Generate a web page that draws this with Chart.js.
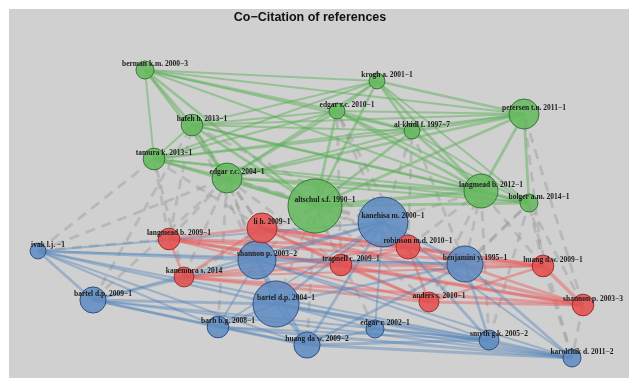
<!DOCTYPE html>
<html>
<head>
<meta charset="utf-8">
<script src="https://cdn.jsdelivr.net/npm/chart.js@4.4.0/dist/chart.umd.min.js"></script>
<style>
  body { margin: 0; background: #fff; }
  #wrap { position: absolute; left: 9px; top: 9px; width: 620px; height: 369px; background: #d0d0d0; }
</style>
</head>
<body>
<div id="wrap"><canvas id="myChart"></canvas></div>
<script>
const title = 'Co\u2212Citation of references';

// references: 0-10 green cluster, 11-18 red, 19-29 blue
const names = [
    'berman k.m. 2000\u22123', 'krogh a. 2001\u22121', 'edgar r.c. 2010\u22121', 'hafeh h. 2013\u22121',
    'petersen t.n. 2011\u22121', 'al-khidl f. 1997\u22127', 'tamura k. 2013\u22121', 'edgar r.c. 2004\u22121',
    'altschul s.f. 1990\u22121', 'langmead b. 2012\u22121', 'bolger a.m. 2014\u22121',
    'li h. 2009\u22121', 'langmead b. 2009\u22121', 'robinson m.d. 2010\u22121', 'trapnell c. 2009\u22121',
    'huang d.w. 2009\u22121', 'kanemura s. 2014', 'anders s. 2010\u22121', 'shannon p. 2003\u22123',
    'kanehisa m. 2000\u22121', 'shannon p. 2003\u22122', 'benjamini y. 1995\u22121', 'ivak l.j. \u22121',
    'bartel d.p. 2009\u22121', 'bartel d.p. 2004\u22121', 'barb b.g. 2008\u22121', 'huang da w. 2009\u22122',
    'edgar r. 2002\u22121', 'smyth g.k. 2005\u22122', 'karolchik d. 2011\u22122'
];
const cluster = [
    'g','g','g','g','g','g','g','g','g','g','g',
    'r','r','r','r','r','r','r','r',
    'b','b','b','b','b','b','b','b','b','b','b'
];
// layout coordinates
const posX = [145, 377, 337, 192, 524, 412, 154, 227, 315, 481, 529,
              262, 169, 408, 341, 543, 184, 429, 583,
              383, 257, 465, 38, 93, 276, 218, 307, 375, 489, 572];
const posY = [70, 81, 111, 125, 114, 131, 159, 178, 206, 191, 203,
              228, 239, 247, 265, 266, 277, 302, 305,
              222, 260, 264, 251, 300, 304, 327, 345, 329, 340, 358];
// co-citation weight per reference
const cites = [9, 7, 7, 13, 25, 7, 13, 25, 81, 32, 9,
               25, 13, 16, 13, 13, 11, 11, 13,
               69, 40, 36, 7, 19, 59, 13, 19, 9, 11, 9];

// [from, to, strength]
const greenLinks = [
    [0,1,1],[0,2,2],[0,3,2],[0,4,1],[0,5,1],[0,7,2],[0,8,2],[0,9,1],[0,6,1],
    [1,2,2],[1,3,1],[1,4,2],[1,5,2],[1,7,1],[1,8,2],[1,9,2],[1,10,1],[1,6,1],
    [2,3,1],[2,4,1],[2,5,2],[2,6,1],[2,7,2],[2,8,2],[2,9,2],[2,10,1],
    [3,4,1],[3,5,1],[3,6,1],[3,7,2],[3,8,2],[3,9,2],[3,10,1],
    [4,5,2],[4,6,1],[4,7,2],[4,8,2],[4,9,2],[4,10,2],
    [5,6,1],[5,7,1],[5,8,2],[5,9,2],[5,10,1],
    [6,7,2],[6,8,2],[6,9,1],[6,10,1],
    [7,8,3],[7,9,2],[7,10,1],
    [8,9,3],[8,10,2],
    [9,10,3]
];
const redLinks = [
    [11,12,2],[11,13,3],[11,14,2],[11,15,3],[11,16,2],[11,17,2],[11,18,3],
    [12,13,2],[12,14,2],[12,15,2],[12,16,2],[12,17,1],[12,18,2],
    [13,14,2],[13,15,3],[13,16,1],[13,17,2],[13,18,2],
    [14,15,2],[14,16,2],[14,17,2],[14,18,2],
    [15,16,1],[15,17,2],[15,18,3],
    [16,17,2],[16,18,2],
    [17,18,2]
];
const blueLinks = [
    [19,20,2],[19,21,2],[19,22,1],[19,23,1],[19,24,2],[19,25,1],[19,26,2],[19,27,1],[19,28,2],[19,29,1],
    [20,21,2],[20,22,2],[20,23,2],[20,24,2],[20,25,1],[20,26,2],[20,28,1],[20,29,1],
    [21,22,1],[21,24,2],[21,26,2],[21,28,2],[21,29,2],
    [22,23,2],[22,24,2],[22,25,1],[22,26,1],[22,28,1],
    [23,24,2],[23,25,2],[23,26,2],[23,28,1],[23,29,1],
    [24,25,2],[24,26,2],[24,27,1],[24,28,2],[24,29,2],
    [25,26,2],[25,28,1],[25,29,2],
    [26,27,1],[26,28,2],[26,29,2],
    [27,28,1],[27,29,1],
    [28,29,2]
];
// links between clusters (dashed)
const crossLinks = [
    [22,6],[22,7],[22,12],[23,7],[12,6],[12,7],[12,3],[16,7],[16,6],[16,8],
    [11,7],[11,3],[11,6],[14,8],[14,2],[14,7],[13,8],[13,9],[13,2],[13,5],
    [19,8],[19,9],[19,7],[19,2],[19,5],[19,3],[20,8],[20,7],[20,3],[21,9],
    [21,10],[21,5],[21,8],[15,10],[15,9],[15,4],[18,10],[18,4],[18,29],[17,9],
    [17,8],[17,10],[24,8],[24,7],[26,8],[27,8],[28,9],[28,10],[25,7],[29,15],
    [29,10],[23,3]
];

const fills = { g: 'rgba(104,186,96,0.88)', r: 'rgba(228,80,80,0.88)', b: 'rgba(96,140,194,0.88)' };
const borders = { g: 'rgba(45,110,45,0.9)', r: 'rgba(150,40,40,0.9)', b: 'rgba(40,70,120,0.9)' };

function edge(link, color, dash, order) {
    let a = link[0], b = link[1];
    let w = link.length > 2 ? 1.1 + link[2] * 0.85 : 2.8;
    return {
        type: 'line',
        data: [{ x: posX[a], y: posY[a] }, { x: posX[b], y: posY[b] }],
        borderColor: color,
        borderWidth: w,
        borderDash: dash,
        pointRadius: 0,
        fill: false,
        clip: false,
        order: order
    };
}

function nodes(c) {
    let pts = [];
    for (let i = 0; i < names.length; i++) {
        if (cluster[i] !== c) continue;
        pts.push({ x: posX[i], y: posY[i], r: 3 * Math.sqrt(cites[i]) });
    }
    return {
        type: 'bubble',
        data: pts,
        backgroundColor: fills[c],
        borderColor: borders[c],
        borderWidth: 1,
        clip: false,
        order: 0
    };
}

let datasets = [nodes('g'), nodes('r'), nodes('b')];
for (let l of greenLinks) datasets.push(edge(l, 'rgba(90,176,86,0.48)', [], 2));
for (let l of redLinks) datasets.push(edge(l, 'rgba(232,92,92,0.45)', [], 3));
for (let l of blueLinks) datasets.push(edge(l, 'rgba(80,130,186,0.42)', [], 2));
for (let l of crossLinks) datasets.push(edge(l, 'rgba(150,150,150,0.42)', [10, 7], 5));

const nodeLabels = {
    id: 'nodeLabels',
    afterDatasetsDraw(chart) {
        const ctx = chart.ctx;
        const x = chart.scales.x, y = chart.scales.y;
        ctx.save();
        ctx.textAlign = 'center';
        ctx.textBaseline = 'middle';
        ctx.font = 'bold 7.5px "Liberation Serif"';
        ctx.fillStyle = '#1c1c1c';
        names.forEach((n, i) => {
            ctx.fillText(n, x.getPixelForValue(posX[i]) + 10, y.getPixelForValue(posY[i]) - 6);
        });
        ctx.font = 'bold 12.5px "Liberation Sans"';
        ctx.fillStyle = '#111';
        ctx.fillText(title, x.getPixelForValue(310), y.getPixelForValue(18));
        ctx.restore();
    }
};

new Chart(document.getElementById('myChart'), {
    type: 'scatter',
    data: { datasets: datasets },
    options: {
        responsive: true,
        maintainAspectRatio: false,
        animation: false,
        layout: { padding: 0, autoPadding: false },
        scales: {
            x: { type: 'linear', min: 9, max: 629, display: false },
            y: { type: 'linear', min: 9, max: 378, reverse: true, display: false }
        },
        plugins: {
            legend: { display: false },
            tooltip: { enabled: false }
        }
    },
    plugins: [nodeLabels]
});
</script>
</body>
</html>
